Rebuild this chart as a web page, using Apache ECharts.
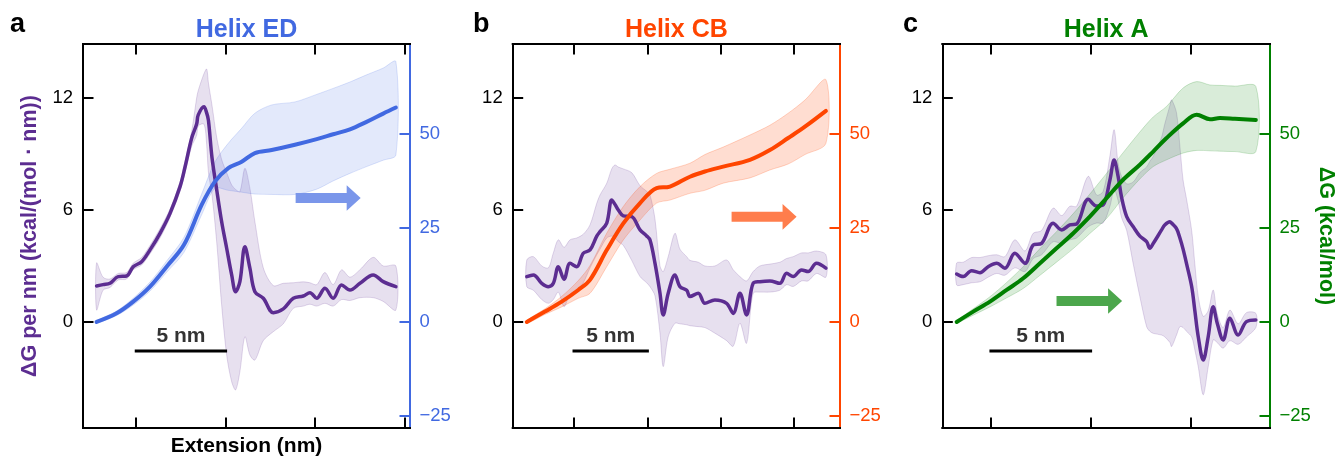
<!DOCTYPE html>
<html><head><meta charset="utf-8">
<script src="https://cdn.jsdelivr.net/npm/echarts@6/dist/echarts.min.js"></script>
<style>html,body{margin:0;padding:0;background:#fff}#c{width:1335px;height:456px}</style>
</head><body><div id="c"></div>
<script>
// ---------- DATA ----------
// Tick values
const leftTicks = [0, 6, 12];
const rightTicks = [-25, 0, 25, 50];
const aXTicks = [5, 10, 15, 20];
const bXTicks = [5, 10, 15, 20];
const cXTicks = [5, 10, 15];

// Panel a (Helix ED): ΔG per nm (left axis) with band
const aX = [2.78,3.14,3.53,3.99,4.46,4.83,5.30,5.77,6.33,6.89,7.45,7.73,8.10,8.38,8.47,8.79,8.94,9.04,9.24,9.50,9.78,10.06,10.34,10.56,10.80,11.08,11.36,11.64,12.11,12.67,13.23,13.79,14.35,14.72,15.10,15.56,16.02,16.49,16.96,17.52,18.26,18.82,19.53];
const aDG = [1.93,2.0,2.07,2.43,2.46,2.96,3.23,3.86,4.75,5.82,7.25,8.3,9.84,10.6,11.09,11.53,11.2,10.8,8.8,7.1,5.37,3.95,2.52,1.62,2.16,4.03,2.88,1.62,1.27,0.5,0.7,1.27,1.39,1.57,1.27,1.80,1.27,1.98,1.71,2.07,2.52,2.16,1.89];
const aDGHi = [3.16,2.4,2.3,2.6,2.65,3.15,3.45,4.1,5.0,6.05,7.5,8.6,10.2,12.0,12.4,13.3,13.55,12.8,11.6,9.9,8.7,8.0,7.34,7.1,6.98,8.23,7.16,5.37,2.9,1.95,2.07,2.1,2.15,2.1,2.0,2.65,2.0,2.79,2.4,2.8,3.46,3.0,3.0];
const aDGLo = [0.64,1.7,1.85,2.25,2.3,2.8,3.05,3.65,4.5,5.6,7.0,8.0,9.4,10.0,10.5,10.6,9.5,8.0,6.8,4.3,0.9,-1.77,-3.2,-3.64,-2.66,-0.79,-1.77,-2.04,-1.0,-0.52,-0.1,0.73,0.85,0.95,0.85,1.0,0.85,1.2,1.15,1.3,1.3,1.1,0.64];
// Panel a: cumulative ΔG (right axis)
const aGX = [2.78,3.90,4.83,5.77,6.70,7.67,8.66,9.40,10.15,10.90,11.64,12.58,13.88,15.10,16.02,16.96,17.89,18.82,19.53];
const aG = [0,2.3,5.4,9.4,14.7,20.5,31.1,37.3,40.9,42.6,44.9,45.7,47.1,48.6,49.9,51.2,53.2,55.4,57.0];
const aGHi = [0.3,2.9,6.3,10.6,16.2,22.5,34.0,42.5,47.5,51.5,55.5,57.7,58.5,60.5,62.1,63.8,65.7,67.5,69.2];
const aGLo = [-0.3,1.7,4.5,8.2,13.2,18.5,28.5,35.5,35.0,34.5,34.0,33.9,33.9,35.3,37.5,39.5,41.3,43.0,44.4];

// Panel b (Helix CB)
const bX = [1.78,2.23,2.80,3.25,3.59,3.93,4.32,4.73,5.18,5.63,6.09,6.55,6.77,7.23,7.57,7.79,8.02,8.36,8.93,9.50,9.95,10.18,10.52,10.86,11.08,11.42,11.88,12.22,12.68,12.90,13.47,13.92,14.60,15.40,15.85,16.31,16.76,17.21,17.67,18.35,19.03,19.49,19.94,20.51,20.96,21.53,22.17];
const bDG = [2.43,2.52,2.07,1.89,2.07,2.96,2.29,3.14,2.96,3.68,3.86,4.6,4.84,5.3,6.54,6.3,6.0,5.68,5.64,4.93,4.61,4.39,3.14,1.54,0.375,1.54,2.52,1.89,1.7,1.36,1.54,1.0,1.18,1.0,0.46,1.54,0.375,2.07,2.16,2.2,2.07,2.61,2.43,2.79,2.7,3.14,2.88];
const bDGHi = [3.32,3.5,3.0,2.9,3.7,4.4,4.0,4.4,4.5,4.7,5.2,6.36,6.8,7.43,8.2,8.41,8.3,8.2,8.0,7.3,7.0,6.8,5.5,3.0,2.7,3.5,4.75,3.9,3.5,3.3,3.2,3.0,3.0,3.32,2.8,2.43,2.2,2.7,3.0,3.1,3.2,3.4,3.5,3.7,3.7,3.8,3.6];
const bDGLo = [1.89,1.7,1.2,1.0,1.2,1.6,0.82,1.5,1.7,2.1,2.9,3.6,3.9,4.5,4.6,4.5,4.3,4.1,3.3,2.43,2.1,1.89,1.4,-0.61,-2.39,-0.79,-0.07,-0.1,-0.15,-0.2,-0.25,-0.3,-0.6,-1.0,-1.3,-0.07,-1.14,1.54,1.6,1.6,1.7,2.0,1.9,2.2,2.2,2.6,2.4];
const bGX = [1.78,3.02,4.16,5.29,6.09,7.23,8.36,9.50,10.63,11.54,12.90,13.92,15.17,16.99,18.35,19.60,20.74,22.17];
const bG = [0,2.75,5.4,8.5,11.2,19.1,26.2,31.6,35.6,36.0,38.6,40.0,41.3,43.1,45.7,48.9,51.9,56.1];
const bGHi = [0.4,3.5,6.8,11.0,15.0,23.6,30.7,36.0,39.5,40.6,42.2,44.5,46.5,49.7,52.3,55.5,59.0,64.4];
const bGLo = [-0.4,2.0,4.0,6.3,7.6,14.7,21.8,27.1,31.6,32.4,34.2,35.0,36.9,38.3,40.4,42.0,44.5,47.5];

// Panel c (Helix A)
const cX = [3.28,3.61,4.03,4.45,4.86,5.29,5.70,6.20,6.71,7.12,7.54,8.12,8.55,8.96,9.30,9.88,10.30,10.63,10.97,11.18,11.38,11.55,11.81,12.14,12.47,12.81,12.97,13.14,13.56,13.72,13.98,14.06,14.31,14.48,14.64,14.81,15.07,15.23,15.40,15.65,15.90,16.15,16.35,16.65,16.99,17.40,17.82,18.29];
const cDG = [2.57,2.43,2.75,2.64,2.96,3.14,2.88,3.68,3.14,4.12,4.21,5.29,4.93,5.2,5.25,6.57,6.21,6.27,7.61,8.68,7.8,6.7,5.64,5.1,4.6,4.3,3.95,4.2,4.93,5.2,5.37,5.3,5.0,4.5,3.9,3.14,1.9,0.6,-0.79,-2.04,-0.79,0.82,-0.05,-0.96,0.2,-0.7,0.02,0.11];
const cDGHi = [3.16,3.2,3.45,3.45,3.55,3.6,3.5,4.4,3.8,4.75,4.9,6.1,5.7,6.2,6.2,7.8,6.8,7.0,8.9,10.3,8.5,7.8,7.4,7.5,8.0,8.3,8.6,8.86,9.9,10.6,11.6,11.9,11.2,9.4,7.6,6.6,4.9,3.1,1.36,0.3,0.6,1.71,0.46,-0.3,0.64,-0.1,0.5,0.46];
const cDGLo = [1.98,2.0,2.1,2.15,2.4,2.6,2.5,2.9,2.7,3.4,3.6,4.3,4.2,4.4,4.5,5.1,5.3,5.3,6.2,7.1,6.5,5.6,4.9,3.1,1.36,-0.25,-0.5,-0.61,-0.7,-0.8,-1.1,-1.32,-0.7,-0.25,-0.3,-0.5,-0.8,-1.5,-2.4,-3.9,-2.4,-0.96,-1.1,-1.4,-1.0,-1.2,-0.8,-0.3];
const cGX = [3.28,4.11,4.95,5.79,6.62,7.46,8.29,9.13,9.96,10.80,11.63,12.47,13.14,13.81,14.64,15.32,15.99,16.49,17.24,18.29];
const cG = [0,2.75,5.4,8.5,11.6,15.6,19.6,23.6,28.0,32.9,37.8,41.8,45.3,48.9,52.8,55.1,53.9,54.2,54.0,53.7];
const cGHi = [0.3,3.5,6.7,10.5,14.7,19.5,24.0,28.8,34.0,39.5,45.0,50.5,54.5,57.3,62.2,63.9,63.0,62.9,62.7,62.6];
const cGLo = [-0.3,1.8,4.0,6.4,8.9,12.4,15.9,19.5,23.5,27.5,33.0,38.0,41.3,43.1,44.9,45.6,45.5,45.4,45.3,45.3];

// Scale bar (nm) and arrows [xStart, xEnd, y(left units)]
const scaleBarX = [5, 10];
const scaleBarY = -1.55;
const scaleBarText = '5 nm';
const aArrow = [13.92, 17.56, 6.64];
const bArrow = [15.74, 20.17, 5.63];
const cArrow = [8.29, 11.58, 1.125];

// ---------- STYLE / LAYOUT ----------
const FONT = '"Liberation Sans", Arial, Helvetica, sans-serif';
const PURPLE = '#5c2d91';
const panels = [
  {title:'Helix ED', letter:'a', letterX:10, left:83, width:327, xMin:2.02, xMax:20.32, xTicks:aXTicks,
   color:'#4169e1', rgb:[65,105,225], bandA:0.15, arrowColor:'#7a96ea',
   dx:aX, dy:aDG, dhi:aDGHi, dlo:aDGLo, gx:aGX, gy:aG, ghi:aGHi, glo:aGLo, arrow:aArrow},
  {title:'Helix CB', letter:'b', letterX:473, left:512.7, width:327.3, xMin:0.82, xMax:23.13, xTicks:bXTicks,
   color:'#ff4500', rgb:[255,69,0], bandA:0.18, arrowColor:'#ff7d4c',
   dx:bX, dy:bDG, dhi:bDGHi, dlo:bDGLo, gx:bGX, gy:bG, ghi:bGHi, glo:bGLo, arrow:bArrow},
  {title:'Helix A', letter:'c', letterX:903, left:942.3, width:327.7, xMin:2.56, xMax:19.0, xTicks:cXTicks,
   color:'#008000', rgb:[0,128,0], bandA:0.15, arrowColor:'#4ca64c',
   dx:cX, dy:cDG, dhi:cDGHi, dlo:cDGLo, gx:cGX, gy:cG, ghi:cGHi, glo:cGLo, arrow:cArrow}
];
const TOP = 44, HEIGHT = 384;
const L_MIN = -5.68, L_MAX = 14.89, R_MIN = -28.2, R_MAX = 73.9;

function rgba(rgb, a){ return 'rgba(' + rgb.join(',') + ',' + a + ')'; }
function fmt(v){ return v < 0 ? '\u2212' + Math.abs(v) : String(v); }

function bandSeries(xs, hi, lo, rgb, alpha, xi, yi){
  return {
    type:'custom', xAxisIndex:xi, yAxisIndex:yi, silent:true, clip:true,
    data: xs.map((x,i)=>[x, lo[i], hi[i]]),
    encode:{x:0, y:[1,2]},
    renderItem:function(params, api){
      if (params.dataIndex !== 0) return null;
      const top = xs.map((x,i)=>api.coord([x, hi[i]]));
      const bot = xs.map((x,i)=>api.coord([x, lo[i]])).reverse();
      return {type:'polygon', shape:{points: top.concat(bot), smooth:0.3},
        style:{fill: rgba(rgb, alpha), stroke: rgba(rgb, alpha*1.2), lineWidth:1}};
    }
  };
}
function lineSeries(xs, ys, color, width, xi, yi){
  return {type:'line', xAxisIndex:xi, yAxisIndex:yi, silent:true, showSymbol:false, symbol:'none',
    smooth:0.35, data: xs.map((x,i)=>[x, ys[i]]),
    lineStyle:{color:color, width:width, cap:'round', join:'round'}};
}
function arrowSeries(arr, color, xi, yi){
  return {type:'custom', xAxisIndex:xi, yAxisIndex:yi, silent:true, clip:false,
    data:[arr],
    renderItem:function(params, api){
      const p0 = api.coord([api.value(0), api.value(2)]);
      const p1 = api.coord([api.value(1), api.value(2)]);
      const sh = 5, hh = 12.8, hl = 14, y = p0[1], bx = p1[0] - hl;
      return {type:'polygon', shape:{points:[[p0[0],y-sh],[bx,y-sh],[bx,y-hh],[p1[0],y],[bx,y+hh],[bx,y+sh],[p0[0],y+sh]]},
        style:{fill:color}};
    }};
}

const grid = [], xAxis = [], yAxis = [], series = [], graphic = [];
panels.forEach((p, i)=>{
  grid.push({left:p.left, top:TOP, width:p.width, height:HEIGHT, containLabel:false, outerBoundsMode:'none'});
  const axLine = (c)=>({show:true, onZero:false, lineStyle:{color:c, width:2, cap:'square'}});
  const tick = (vals, c)=>({show:true, inside:true, length:10.5, customValues:vals, lineStyle:{color:c, width:2}});
  xAxis.push({type:'value', gridIndex:i, position:'bottom', min:p.xMin, max:p.xMax,
    axisLine:axLine('#000'), axisTick:tick(p.xTicks,'#000'),
    axisLabel:{show:false, customValues:p.xTicks}, splitLine:{show:false},
    name: i===0 ? 'Extension (nm)' : '', nameLocation:'middle', nameGap:8,
    nameTextStyle:{color:'#000', fontSize:21, fontWeight:'bold', fontFamily:FONT}});
  xAxis.push({type:'value', gridIndex:i, position:'top', min:p.xMin, max:p.xMax,
    axisLine:axLine('#000'), axisTick:tick(p.xTicks,'#000'),
    axisLabel:{show:false, customValues:p.xTicks}, splitLine:{show:false}});
  yAxis.push({type:'value', gridIndex:i, position:'left', min:L_MIN, max:L_MAX,
    axisLine:axLine('#000'), axisTick:tick(leftTicks,'#000'),
    axisLabel:{show:true, customValues:leftTicks, color:'#000', fontSize:18.5, fontFamily:FONT, margin:10, formatter:fmt},
    splitLine:{show:false},
    name: i===0 ? 'ΔG per nm (kcal/(mol · nm))' : '', nameLocation:'middle', nameGap:42, nameRotate:90,
    nameTextStyle:{color:PURPLE, fontSize:21.5, fontWeight:'bold', fontFamily:FONT}});
  yAxis.push({type:'value', gridIndex:i, position:'right', min:R_MIN, max:R_MAX,
    axisLine:axLine(p.color), axisTick:tick(rightTicks, p.color),
    axisLabel:{show:true, customValues:rightTicks, color:p.color, fontSize:18.5, fontFamily:FONT, margin:9.5, formatter:fmt},
    splitLine:{show:false},
    name: i===2 ? 'ΔG (kcal/mol)' : '', nameLocation:'middle', nameGap:44, nameRotate:-90,
    nameTextStyle:{color:p.color, fontSize:21.5, fontWeight:'bold', fontFamily:FONT}});
  const xb = 2*i, yl = 2*i, yr = 2*i+1;
  series.push(bandSeries(p.dx, p.dhi, p.dlo, [92,45,145], 0.15, xb, yl));
  series.push(lineSeries(p.dx, p.dy, PURPLE, 3.5, xb, yl));
  series.push({type:'line', xAxisIndex:xb, yAxisIndex:yl, silent:true, showSymbol:false, symbol:'none',
    data: scaleBarX.map(x=>[x, scaleBarY]), lineStyle:{color:'#000', width:3, cap:'square'}});
  series.push({type:'scatter', xAxisIndex:xb, yAxisIndex:yl, silent:true, symbolSize:0,
    data:[[(scaleBarX[0]+scaleBarX[1])/2, scaleBarY]],
    label:{show:true, position:'top', distance:4, formatter:scaleBarText, color:'#000', fontSize:21, fontWeight:'bold', fontFamily:FONT}});
  series.push(bandSeries(p.gx, p.ghi, p.glo, p.rgb, p.bandA, xb, yr));
  series.push(lineSeries(p.gx, p.gy, p.color, 4, xb, yr));
  series.push(arrowSeries(p.arrow, p.arrowColor, xb, yl));
  graphic.push({type:'text', x:p.left + p.width/2, y:30.5, silent:true,
    style:{text:p.title, fill:p.color, font:'bold 25px ' + FONT, align:'center', verticalAlign:'middle', textAlign:'center', textVerticalAlign:'middle'}});
  graphic.push({type:'text', x:p.letterX, y:24.5, silent:true,
    style:{text:p.letter, fill:'#000', font:'bold 27px ' + FONT, align:'left', verticalAlign:'middle', textAlign:'left', textVerticalAlign:'middle'}});
});

const chart = echarts.init(document.getElementById('c'), null, {renderer:'canvas'});
chart.setOption({animation:false, backgroundColor:'#fff', grid, xAxis, yAxis, series, graphic});
</script></body></html>
